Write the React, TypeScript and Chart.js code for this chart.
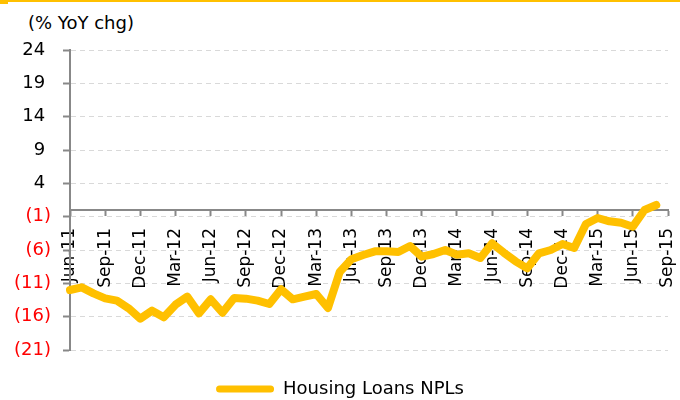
import React, { useEffect, useRef } from "react";
import { Chart, registerables } from "chart.js";

Chart.register(...registerables);

// ---- data ----
const months: string[] = [
  "Jun-11", "Jul-11", "Aug-11", "Sep-11", "Oct-11", "Nov-11", "Dec-11",
  "Jan-12", "Feb-12", "Mar-12", "Apr-12", "May-12", "Jun-12", "Jul-12", "Aug-12", "Sep-12", "Oct-12", "Nov-12", "Dec-12",
  "Jan-13", "Feb-13", "Mar-13", "Apr-13", "May-13", "Jun-13", "Jul-13", "Aug-13", "Sep-13", "Oct-13", "Nov-13", "Dec-13",
  "Jan-14", "Feb-14", "Mar-14", "Apr-14", "May-14", "Jun-14", "Jul-14", "Aug-14", "Sep-14", "Oct-14", "Nov-14", "Dec-14",
  "Jan-15", "Feb-15", "Mar-15", "Apr-15", "May-15", "Jun-15", "Jul-15", "Aug-15", "Sep-15",
];

const housingLoansNPLs: number[] = [
  -12.0, -11.6, -12.5, -13.25, -13.6, -14.75, -16.3,
  -15.1, -16.1, -14.2, -13.0, -15.5, -13.4, -15.4, -13.2, -13.3, -13.6, -14.1, -11.9,
  -13.4, -13.0, -12.6, -14.7, -9.3, -7.4, -6.75, -6.2, -6.2, -6.3, -5.4, -7.0,
  -6.6, -6.0, -6.7, -6.5, -7.2, -5.0, -6.4, -7.7, -8.75, -6.5, -6.0, -5.1,
  -5.7, -2.1, -1.2, -1.7, -1.9, -2.5, 0.0, 0.75,
];

const seriesName = "Housing Loans NPLs";
const axisTitle = "(% YoY chg)";
const yMin = -21;
const yMax = 24;
const yStep = 5;
const labelEvery = 3;

// ---- styles ----
const ORANGE = "#FFC000";
const GRAY = "#888888";
const GRID = "#D9D9D9";
const RED = "#FF0000";
const FONT = "'DejaVu Sans', 'Verdana', sans-serif";

export default function App() {
  const ref = useRef<HTMLCanvasElement>(null);

  useEffect(() => {
    document.body.style.margin = "0";
    const canvas = ref.current;
    if (!canvas) return;
    const chart = new Chart(canvas, {
      type: "line",
      data: {
        labels: months,
        datasets: [
          {
            label: seriesName,
            data: housingLoansNPLs,
            borderColor: ORANGE,
            backgroundColor: ORANGE,
            borderWidth: 8,
            pointRadius: 0,
            tension: 0,
            borderJoinStyle: "round",
            borderCapStyle: "round",
            fill: false,
          },
        ],
      },
      options: {
        responsive: false,
        animation: false,
        layout: { padding: { left: 12, right: 12, top: 50, bottom: -8 } },
        scales: {
          x: {
            type: "category",
            position: { y: 0 } as any,
            offset: false,
            afterFit: (s: any) => {
              s.paddingLeft = 0;
              s.paddingRight = 0;
            },
            grid: {
              display: true,
              drawOnChartArea: false,
              drawTicks: true,
              tickLength: 5,
              tickColor: GRAY,
              tickWidth: 2,
            },
            border: { display: true, color: GRAY, width: 2 },
            ticks: {
              autoSkip: false,
              minRotation: 90,
              maxRotation: 90,
              padding: 13,
              color: "#000000",
              font: { family: FONT, size: 17 },
              callback: (_v: any, idx: number) =>
                idx % labelEvery === 0 ? months[idx] : null,
            },
          },
          y: {
            min: yMin,
            max: yMax,
            afterFit: (s: any) => {
              s.width = 58;
            },
            grid: {
              color: GRID,
              lineWidth: 1,
              drawTicks: true,
              tickLength: 7,
              tickColor: GRAY,
              tickWidth: 2,
            },
            border: { display: true, color: GRAY, width: 2, dash: [5, 4] },
            ticks: {
              stepSize: yStep,
              padding: 12,
              font: { family: FONT, size: 18 },
              color: (ctx: any) =>
                ctx.tick && ctx.tick.value < 0 ? RED : "#000000",
              callback: (v: any) => {
                const n = Number(v);
                return n < 0 ? `(${Math.abs(n)})` : `${n} `;
              },
            },
          },
        },
        plugins: {
          legend: {
            position: "bottom",
            labels: {
              boxWidth: 58,
              boxHeight: 7,
              padding: 30,
              color: "#000000",
              font: { family: FONT, size: 18 },
              useBorderRadius: true,
              borderRadius: 3.5,
              generateLabels: (c: any) => {
                const items = Chart.defaults.plugins.legend.labels.generateLabels(c);
                items.forEach((it: any) => {
                  it.lineWidth = 0;
                  it.fillStyle = ORANGE;
                  it.strokeStyle = ORANGE;
                });
                return items;
              },
            },
          },
          tooltip: { enabled: false },
        },
      } as any,
    });
    return () => chart.destroy();
  }, []);

  return (
    <div
      style={{
        position: "fixed",
        left: 0,
        top: 0,
        width: 680,
        height: 400,
        background: "#ffffff",
        overflow: "hidden",
      }}
    >
      <div style={{ position: "absolute", left: 0, top: 0, width: 680, height: 2, background: ORANGE }} />
      <div style={{ position: "absolute", left: 0, top: 0, width: 8, height: 4, background: ORANGE }} />
      <div
        style={{
          position: "absolute",
          left: 28,
          top: 12,
          fontFamily: FONT,
          fontSize: 18,
          color: "#000000",
          whiteSpace: "nowrap",
        }}
      >
        {axisTitle}
      </div>
      <canvas
        ref={ref}
        width={680}
        height={400}
        style={{ position: "absolute", left: 0, top: 0 }}
      />
    </div>
  );
}
